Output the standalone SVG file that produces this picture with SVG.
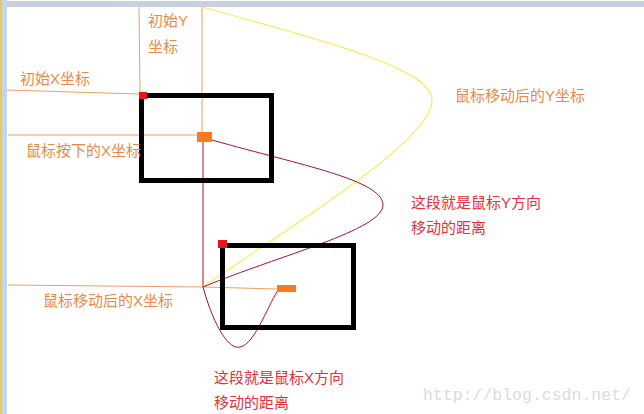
<svg xmlns="http://www.w3.org/2000/svg" width="644" height="414" viewBox="0 0 644 414">
<style>
.o{font-family:"Liberation Sans","Noto Sans CJK SC",sans-serif;font-size:15px;fill:#ec8a45}
.r{font-family:"Liberation Sans","Noto Sans CJK SC",sans-serif;font-size:15px;fill:#e6303a}
.box{fill:none;stroke:#000;stroke-width:5}
.ol{fill:none;stroke:#f0a060;stroke-width:1}
.yl{fill:none;stroke:#f5ee60;stroke-width:1.2}
.rl{fill:none;stroke:#a8103a;stroke-width:1}
</style>
<rect width="644" height="414" fill="#fff"/>
<rect x="0" y="1" width="644" height="6" fill="#c8cfe0"/>
<rect x="2" y="0" width="5" height="414" fill="#c8d4ec"/>
<rect x="0" y="0" width="2" height="414" fill="#e2cc5a"/>
<g id="connectors">
<path class="ol" d="M139,7 L140,93"/>
<path class="ol" d="M202,7 L202,132"/>
<path class="ol" d="M7,90 L139,94"/>
<path class="ol" d="M8,135 L197,135"/>
<path class="ol" d="M8,285 L203,287 L277,289"/>
<path class="rl" d="M203,142 L203,287"/>
<path class="yl" d="M202,7 C340,45 432,70 432,100 C432,140 300,220 203,287"/>
<path class="rl" d="M212,140 C300,165 383,180 383,205 C383,230 280,255 203,287"/>
<path class="rl" d="M203,287 C215,330 230,350 240,347 C255,345 270,300 279,289"/>
</g>
<g id="box1">
<rect class="box" x="141.5" y="95.5" width="130" height="85"/>
<rect x="139" y="92" width="8" height="7" fill="#e8141e"/>
<rect x="197" y="132" width="15" height="10" fill="#fa7a20"/>
</g>
<g id="box2">
<rect class="box" x="222.5" y="245.5" width="131" height="82"/>
<rect x="218" y="240" width="9" height="8" fill="#e8141e"/>
<rect x="277" y="285" width="19" height="7" fill="#fa7a20"/>
</g>
<g id="labels">
<text class="o" x="148" y="26">初始Y</text>
<text class="o" x="148" y="52">坐标</text>
<text class="o" x="20" y="84">初始X坐标</text>
<text class="o" x="26" y="156">鼠标按下的X坐标</text>
<text class="o" x="455" y="101">鼠标移动后的Y坐标</text>
<text class="r" x="411" y="208">这段就是鼠标Y方向</text>
<text class="r" x="411" y="233">移动的距离</text>
<text class="o" x="43" y="306">鼠标移动后的X坐标</text>
<text class="r" x="214" y="383">这段就是鼠标X方向</text>
<text class="r" x="214" y="408">移动的距离</text>
<text x="423" y="400" font-family="Liberation Mono,monospace" font-size="16.5" fill="#dcdcdc">http://blog.csdn.net/</text>
</g>
</svg>
